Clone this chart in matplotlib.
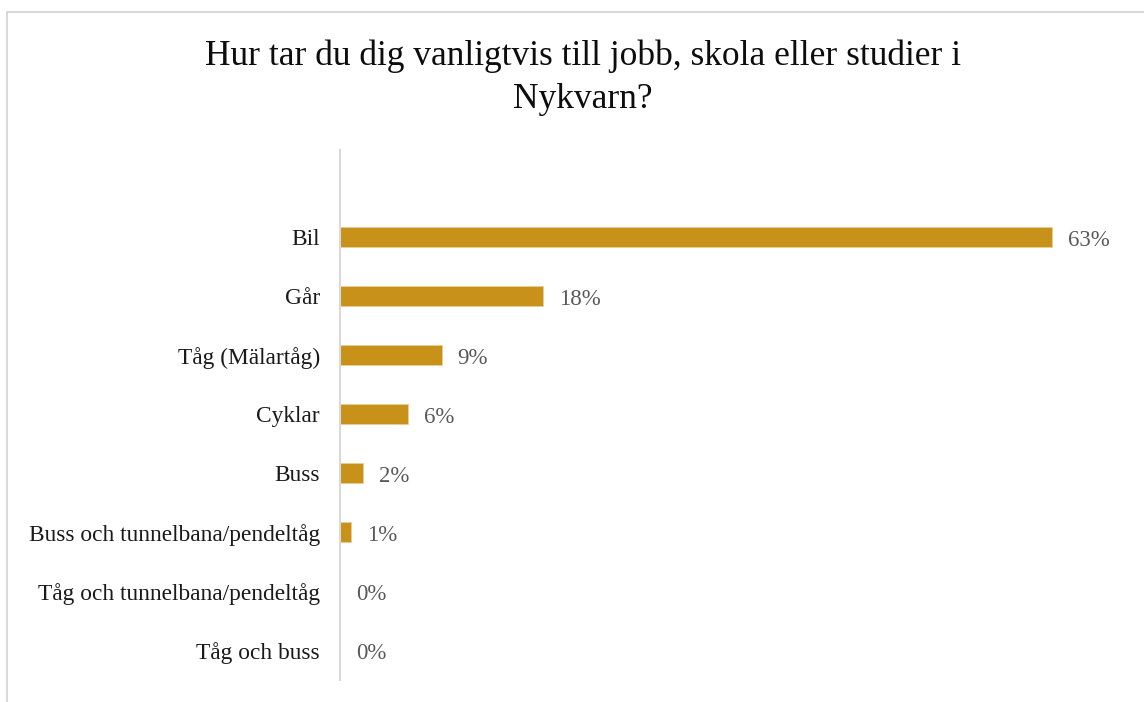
import matplotlib.pyplot as plt
from matplotlib.patches import Rectangle

categories = ["Bil", "Går", "Tåg (Mälartåg)", "Cyklar", "Buss",
              "Buss och tunnelbana/pendeltåg", "Tåg och tunnelbana/pendeltåg",
              "Tåg och buss"]
values = [63, 18, 9, 6, 2, 1, 0, 0]
title = "Hur tar du dig vanligtvis till jobb, skola eller studier i\nNykvarn?"

W, H = 1144, 702
plt.rcParams['font.family'] = ['Liberation Serif', 'DejaVu Serif']

fig = plt.figure(figsize=(W / 100, H / 100), dpi=100)
# ram runt diagrammet
fig.patches.append(Rectangle((7 / W, -0.1), 1.2, 1 - 12 / H + 0.1,
                             transform=fig.transFigure, fill=False,
                             edgecolor='#d9d9d9', linewidth=1.5))

ax = fig.add_axes([340 / W, 1 - 680 / H, (1131 - 340) / W, (680 - 150) / H])
pos = list(range(len(categories)))
ax.barh(pos, values, height=0.34, color='#C8921A', edgecolor='#E8CF95', linewidth=0.6)
ax.set_xlim(0, 70)
ax.set_ylim(len(categories) - 0.5, -1.47)

for p, v in zip(pos, values):
    ax.annotate(f"{v}%", (v, p), xytext=(16, -1), textcoords='offset pixels',
                va='center_baseline', ha='left', fontsize=16.5, color='#595959')

ax.set_yticks(pos)
ax.set_yticklabels(categories, fontsize=16.8, color='#1a1a1a')
ax.tick_params(axis='y', length=0, pad=14.4)
ax.set_xticks([])
for s in ['top', 'right', 'bottom']:
    ax.spines[s].set_visible(False)
ax.spines['left'].set_color('#d9d9d9')
ax.spines['left'].set_linewidth(1.5)

fig.text(583 / W, 1 - 78 / H, title, ha='center', va='center', fontsize=25.5,
         color='#0d0d0d', linespacing=1.4)

fig.savefig('out.png', dpi=100)
